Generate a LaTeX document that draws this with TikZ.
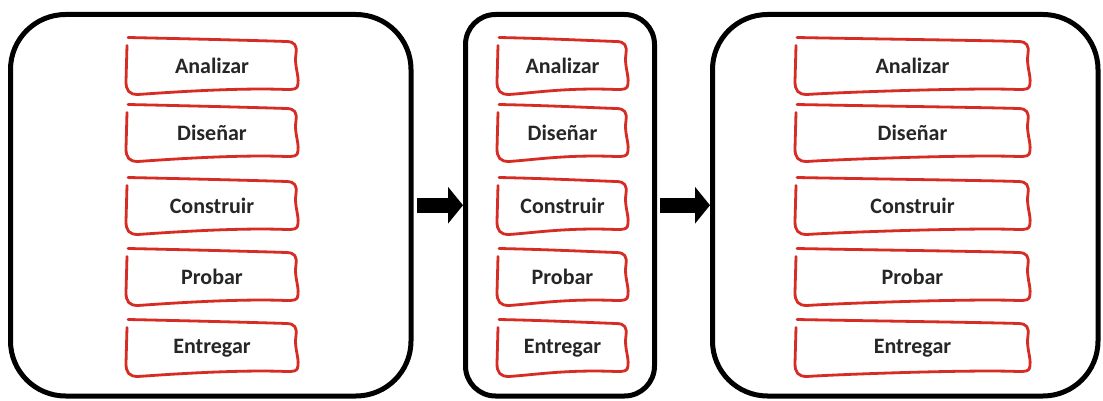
\documentclass[tikz,border=0pt]{standalone}
\usepackage{fontspec}
\setmainfont{Carlito}
\usetikzlibrary{arrows.meta}
\definecolor{inkred}{RGB}{214,44,36}
\definecolor{labelgray}{RGB}{38,38,38}
\tikzset{
  phase/.style={draw=black, line width=5pt, rounded corners=#1, inner sep=0pt, fill=white},
  tablet/.style={minimum width=#1, minimum height=57pt, inner sep=0pt, outer sep=0pt,
    text=labelgray, font=\bfseries\fontsize{22}{26}\selectfont},
  tabline/.style={draw=inkred, line width=2.8pt, line cap=round, line join=round},
  flow/.style={line width=15pt, shorten <=3pt, -{Triangle[length=15pt,width=36pt]}}
}
\begin{document}
\begin{tikzpicture}[x=1pt,y=-1pt]
\useasboundingbox[fill=white] (0,0) rectangle (1103,401);

% three phase frames
\node[phase=55pt, minimum width=400.5pt, minimum height=381.5pt] (p1) at (210.75,205.25) {};
\node[phase=30pt, minimum width=189pt,   minimum height=381.5pt] (p2) at (560,205.25) {};
\node[phase=55pt, minimum width=385.5pt, minimum height=381.5pt] (p3) at (905.25,205.25) {};

% activity labels
\foreach \col/\cx/\w in {a/212/172pt, b/562.5/131pt, c/912.5/235pt}{
  \node[tablet=\w] (\col1) at (\cx,66)  {Analizar};
  \node[tablet=\w] (\col2) at (\cx,133) {Diseñar};
  \node[tablet=\w] (\col3) at (\cx,206) {Construir};
  \node[tablet=\w] (\col4) at (\cx,277) {Probar};
  \node[tablet=\w] (\col5) at (\cx,348) {Entregar};
}

% hand-drawn outlines around the labels
\foreach \n in {a1,a2,a3,a4,a5,b1,b2,b3,b4,b5,c1,c2,c3,c4,c5}{
  \draw[tabline]
    ([shift={(2pt,0pt)}]\n.north west)
    .. controls ([shift={(50pt,-1pt)}]\n.north west) and ([shift={(-40pt,-3pt)}]\n.north east)
    .. ([shift={(-12pt,-4pt)}]\n.north east)
    .. controls ([shift={(-3pt,-4pt)}]\n.north east) and ([shift={(-1pt,-8pt)}]\n.north east)
    .. ([shift={(-2pt,-16pt)}]\n.north east)
    .. controls ([shift={(-4pt,-28pt)}]\n.north east) and ([shift={(1pt,20pt)}]\n.south east)
    .. ([shift={(0pt,11pt)}]\n.south east)
    .. controls ([shift={(0pt,5pt)}]\n.south east) and ([shift={(-4pt,5pt)}]\n.south east)
    .. ([shift={(-12pt,5pt)}]\n.south east)
    .. controls ([shift={(-60pt,7pt)}]\n.south east) and ([shift={(40pt,2pt)}]\n.south west)
    .. ([shift={(12pt,0pt)}]\n.south west)
    .. controls ([shift={(3pt,0pt)}]\n.south west) and ([shift={(0pt,4pt)}]\n.south west)
    .. ([shift={(0pt,13pt)}]\n.south west)
    -- ([shift={(1pt,-8pt)}]\n.north west);
}

% block arrows between phases
\draw[flow] (p1.east) -- (p2.west);
\draw[flow] (p2.east) -- (p3.west);
\end{tikzpicture}
\end{document}
